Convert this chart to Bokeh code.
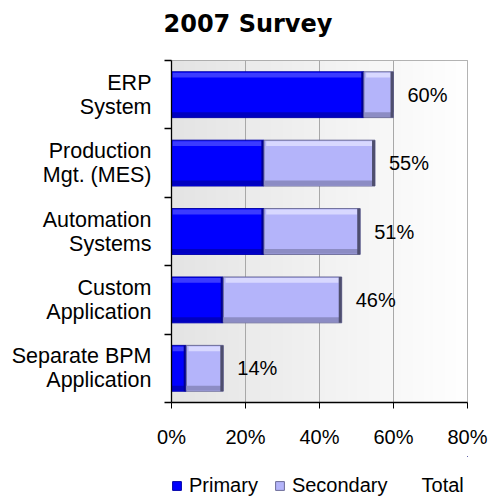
import numpy as np
from bokeh.plotting import figure
from bokeh.layouts import column
from bokeh.models import FixedTicker, Legend, LegendItem, Range1d, Title
from bokeh.core.properties import value
from bokeh.embed import file_html
from bokeh.resources import INLINE

# ---- data ----
categories = ["ERP\nSystem", "Production\nMgt. (MES)", "Automation\nSystems",
              "Custom\nApplication", "Separate BPM\nApplication"]
primary = [52, 25, 25, 14, 4]
secondary = [8, 30, 26, 32, 10]
total = [60, 55, 51, 46, 14]
total_labels = ["60%", "55%", "51%", "46%", "14%"]
x_ticks = [0, 20, 40, 60, 80]
x_tick_labels = ["0%", "20%", "40%", "60%", "80%"]
series_names = ["Primary", "Secondary", "Total"]

n = len(categories)
ys = np.array([n - i - 0.5 for i in range(n)])
prim = np.array(primary, dtype=float)
sec_end = prim + np.array(secondary, dtype=float)
tot = np.array(total, dtype=float)
zeros = np.zeros(n)
H = 0.67

LABEL_FONT = "Liberation Sans"
PRIM_FILL, PRIM_LINE = "#0000ff", "#0000a8"
SEC_FILL, SEC_LINE = "#b4b4fa", "#6c6c98"

p = figure(width=488, height=456,
           min_border_left=171, min_border_right=21,
           min_border_top=60, min_border_bottom=54,
           x_range=Range1d(0, 80), y_range=Range1d(0, n),
           output_backend="svg", toolbar_location=None,
           background_fill_color="white", border_fill_color="white")

# plot-area gradient (light grey at left to white at right)
grad = np.linspace(0, 1, 128)
img = np.zeros((1, 128), dtype=np.uint32)
view = img.view(dtype=np.uint8).reshape((1, 128, 4))
c = (228 + (255 - 228) * grad).astype(np.uint8)
view[0, :, 0] = c
view[0, :, 1] = c
view[0, :, 2] = c
view[0, :, 3] = 255
p.image_rgba(image=[img], x=0, y=0, dw=80, dh=n, level="image")

p.outline_line_color = "#9a9a9a"
p.outline_line_width = 1

# grid
p.ygrid.visible = False
p.xgrid.ticker = FixedTicker(ticks=x_ticks)
p.xgrid.grid_line_color = "#a8a8a8"
p.xgrid.grid_line_width = 1

# x axis
xa = p.xaxis[0]
xa.ticker = FixedTicker(ticks=x_ticks)
xa.major_label_overrides = {float(t): l for t, l in zip(x_ticks, x_tick_labels)}
xa.major_tick_out = 6
xa.major_tick_in = 0
xa.minor_tick_line_color = None
xa.major_label_standoff = 17
xa.major_label_text_font = LABEL_FONT
xa.major_label_text_font_size = "20px"
xa.major_label_text_color = "black"
xa.axis_line_color = "black"
xa.axis_line_width = 1.3
xa.major_tick_line_color = "black"

# y axis (labels at category centres, tick marks at boundaries)
ya = p.yaxis[0]
ya.ticker = FixedTicker(ticks=list(ys), minor_ticks=[float(i) for i in range(n + 1)])
ya.major_label_overrides = {float(y): lab for y, lab in zip(ys, categories)}
ya.major_tick_out = 0
ya.major_tick_in = 0
ya.major_tick_line_color = None
ya.minor_tick_out = 7
ya.minor_tick_in = 0
ya.minor_tick_line_color = "black"
ya.minor_tick_line_width = 1.3
ya.major_label_standoff = 13
ya.major_label_text_font = LABEL_FONT
ya.major_label_text_font_size = "21.5px"
ya.major_label_text_color = "black"
ya.major_label_text_align = "center"
ya.major_label_text_line_height = 1.0
ya.axis_line_color = "black"
ya.axis_line_width = 1.3

# ---- bars ----
p.hbar(y=ys, left=zeros, right=prim, height=H,
       fill_color=PRIM_FILL, line_color=PRIM_LINE, line_width=1)
p.hbar(y=ys + H / 2 - 0.05, left=zeros + 0.3, right=prim - 0.6, height=0.07,
       fill_color="#4a4aff", fill_alpha=0.8, line_color=None)
p.hbar(y=ys - H / 2 + 0.045, left=zeros, right=prim, height=0.07,
       fill_color="#0000c0", line_color=None)
p.hbar(y=ys, left=prim - 0.7, right=prim, height=H,
       fill_color="#000090", line_color=None)

p.hbar(y=ys, left=prim, right=sec_end, height=H,
       fill_color=SEC_FILL, line_color=SEC_LINE, line_width=1)
p.hbar(y=ys + H / 2 - 0.05, left=prim + 0.6, right=sec_end - 0.8, height=0.07,
       fill_color="#dcdcff", fill_alpha=0.9, line_color=None)
p.hbar(y=ys - H / 2 + 0.045, left=prim, right=sec_end, height=0.07,
       fill_color="#8c8cc4", line_color=None)
p.hbar(y=ys, left=sec_end - 0.8, right=sec_end, height=H,
       fill_color="#4e4e6e", line_color=None)

# value labels of the (invisible) Total series
p.text(x=tot, y=ys, text=total_labels, x_offset=14,
       text_align="left", text_baseline="middle",
       text_font=value(LABEL_FONT), text_font_size="20px", text_color="black")

# ---- title (with a spacer between it and the plot area) ----
p.title.text = "2007 Survey"
p.title.text_font = "DejaVu Sans"
p.title.text_font_style = "bold"
p.title.text_font_size = "24px"
p.title.text_color = "black"
p.title.align = "left"
p.title.offset = -8
p.title.standoff = 0
p.add_layout(Title(text=" ", text_font_size="10px", standoff=10), "above")

# ---- legend strip below the chart ----
# the same series are drawn here well outside the visible range, only to key the legend
pl = figure(width=488, height=44, min_border=0,
            x_range=Range1d(-300, -200), y_range=Range1d(-30, -20),
            x_axis_location=None, y_axis_location=None,
            output_backend="svg", toolbar_location=None,
            background_fill_color="white", border_fill_color="white")
pl.outline_line_color = None
pl.grid.visible = False
l_prim = pl.hbar(y=ys, left=zeros, right=prim, height=H,
                 fill_color=PRIM_FILL, line_color=PRIM_LINE)
l_sec = pl.hbar(y=ys, left=prim, right=sec_end, height=H,
                fill_color=SEC_FILL, line_color=SEC_LINE)
l_tot = pl.hbar(y=ys, left=zeros, right=tot, height=H,
                fill_alpha=0, line_alpha=0)
legend = Legend(items=[LegendItem(label=series_names[0], renderers=[l_prim]),
                       LegendItem(label=series_names[1], renderers=[l_sec]),
                       LegendItem(label=series_names[2], renderers=[l_tot])],
                orientation="horizontal", location=(0, 3),
                glyph_width=11, glyph_height=11, label_standoff=7, spacing=16,
                padding=0, margin=0, border_line_color=None,
                background_fill_alpha=0,
                label_text_font=LABEL_FONT, label_text_font_size="20px",
                label_text_color="black")
pl.add_layout(legend)

layout = column(p, pl, spacing=0)
open("out.html", "w").write(file_html(layout, INLINE))
